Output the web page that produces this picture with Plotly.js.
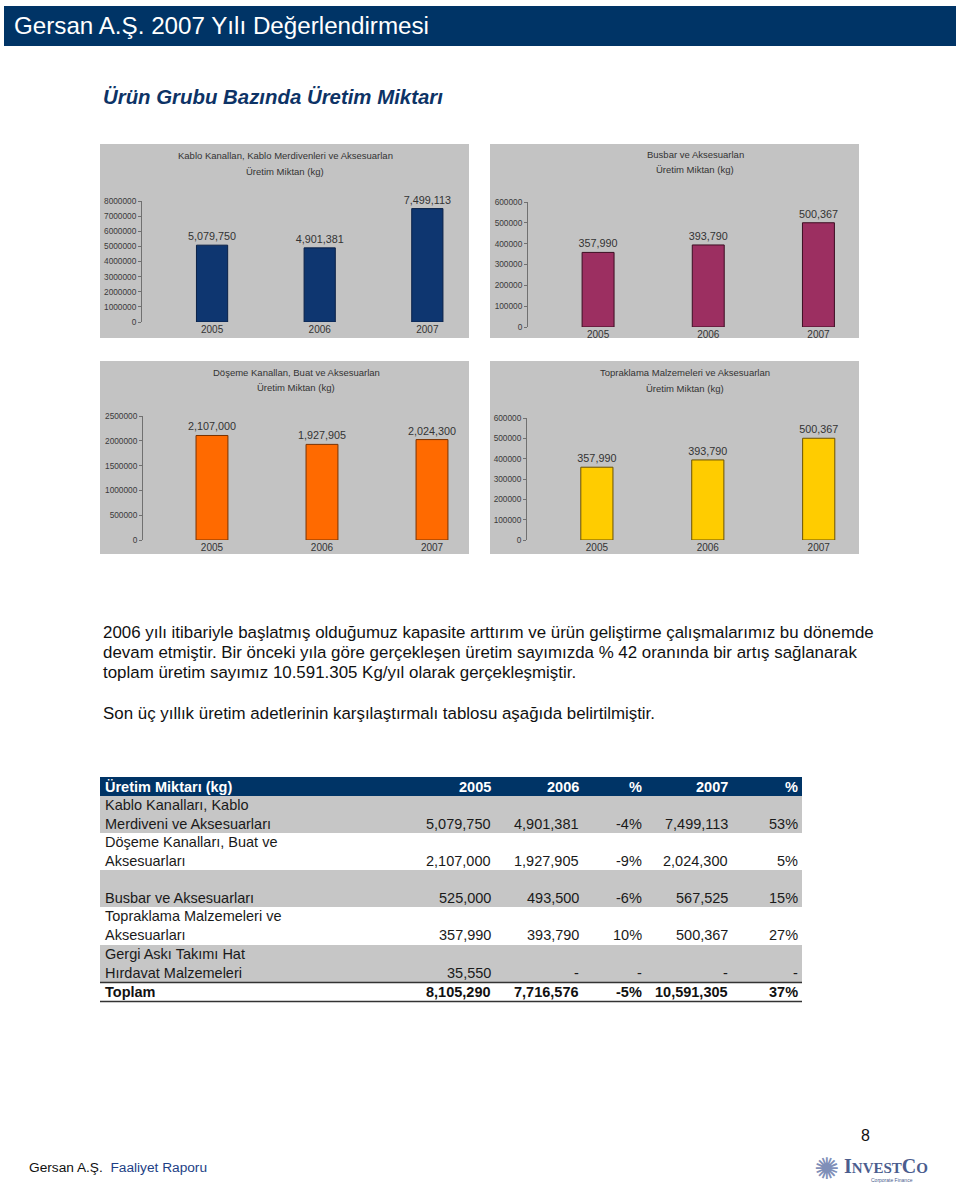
<!DOCTYPE html>
<html><head><meta charset="utf-8">
<script src="https://cdn.plot.ly/plotly-3.0.1.min.js"></script>
<style>html,body{margin:0;padding:0;background:#fff;} #page{width:960px;height:1192px;}</style>
</head><body><div id="page"></div>
<script>
// ---------------- DATA ----------------
const years = ['2005', '2006', '2007'];
const kabloValues = [5079750, 4901381, 7499113];
const busbarValues = [357990, 393790, 500367];
const dosemeValues = [2107000, 1927905, 2024300];
const topraklamaValues = [357990, 393790, 500367];

const kabloTitle = ['Kablo Kanallan, Kablo Merdivenleri ve Aksesuarlan', 'Üretim Miktan (kg)'];
const busbarTitle = ['Busbar ve Aksesuarlan', 'Üretim Miktan (kg)'];
const dosemeTitle = ['Döşeme Kanallan, Buat ve Aksesuarlan', 'Üretim Miktan (kg)'];
const topraklamaTitle = ['Topraklama Malzemeleri ve Aksesuarlan', 'Üretim Miktan (kg)'];

const tableHeader = ['Üretim Miktarı (kg)', '2005', '2006', '%', '2007', '%'];
const tableRowLine1 = ['Kablo Kanalları, Kablo', 'Döşeme Kanalları, Buat ve', '', 'Topraklama Malzemeleri ve', 'Gergi Askı Takımı Hat'];
const tableRowLine2 = ['Merdiveni ve Aksesuarları', 'Aksesuarları', 'Busbar ve Aksesuarları', 'Aksesuarları', 'Hırdavat Malzemeleri'];
const table2005 = [5079750, 2107000, 525000, 357990, 35550];
const table2006 = [4901381, 1927905, 493500, 393790, null];
const tablePct0506 = [-4, -9, -6, 10, null];
const table2007 = [7499113, 2024300, 567525, 500367, null];
const tablePct0607 = [53, 5, 15, 27, null];
const totalLabel = 'Toplam';
const totalRow = [8105290, 7716576, -5, 10591305, 37];

const pageTitle = 'Gersan A.Ş. 2007 Yılı Değerlendirmesi';
const sectionTitle = 'Ürün Grubu Bazında Üretim Miktarı';
const paragraphLines = [
  '2006 yılı itibariyle başlatmış olduğumuz kapasite arttırım ve ürün geliştirme çalışmalarımız bu dönemde',
  'devam etmiştir. Bir önceki yıla göre gerçekleşen üretim sayımızda % 42 oranında bir artış sağlanarak',
  'toplam üretim sayımız 10.591.305 Kg/yıl olarak gerçekleşmiştir.',
  'Son üç yıllık üretim adetlerinin karşılaştırmalı tablosu aşağıda belirtilmiştir.'
];
const pageNumber = '8';
const footerCompany = 'Gersan A.Ş.';
const footerReport = 'Faaliyet Raporu';

// ---------------- LAYOUT HELPERS ----------------
const W = 960, H = 1192;
const PX = x => x / W;
const PY = y => 1 - y / H;
const NARROW = '"Liberation Sans", Arial, Helvetica, sans-serif';
const SANS = '"Liberation Sans", Arial, Helvetica, sans-serif';
const fmt = v => (v === null ? '-' : Math.round(v).toLocaleString('en-US'));
const pct = v => (v === null ? '-' : v + '%');

const panels = [
  {values: kabloValues, title: kabloTitle, color: '#0E3670', line: '#0A2148',
   bg: [100, 144, 469, 338], x0: 142, x1: 465, yb: 322, yt: 201, ymax: 8000000, dtick: 1000000,
   range: [-0.651, 2.35], tx: 285, ty: [156, 171]},
  {values: busbarValues, title: busbarTitle, color: '#9C2F61', line: '#3C0E22',
   bg: [490, 144, 859, 338], x0: 528, x1: 857, yb: 327, yt: 202, ymax: 600000, dtick: 100000,
   range: [-0.636, 2.35], tx: 695, ty: [155, 170]},
  {values: dosemeValues, title: dosemeTitle, color: '#FF6A00', line: '#7A3200',
   bg: [100, 361, 469, 554], x0: 143, x1: 465, yb: 540, yt: 416, ymax: 2500000, dtick: 500000,
   range: [-0.627, 2.3], tx: 296, ty: [372, 387]},
  {values: topraklamaValues, title: topraklamaTitle, color: '#FFCC00', line: '#6B5200',
   bg: [490, 361, 859, 554], x0: 527, x1: 852, yb: 540, yt: 418, ymax: 600000, dtick: 100000,
   range: [-0.63, 2.3], tx: 685, ty: [372, 388]}
];

const data = [];
const shapes = [];
const annotations = [];
const layout = {
  width: W, height: H, margin: {l: 0, r: 0, t: 0, b: 0},
  paper_bgcolor: '#ffffff', plot_bgcolor: 'rgba(0,0,0,0)',
  showlegend: false, shapes: shapes, annotations: annotations,
  font: {family: NARROW, color: '#333'}
};

// header bar
shapes.push({type: 'rect', xref: 'paper', yref: 'paper', x0: PX(4), x1: PX(956), y0: PY(46), y1: PY(6),
  fillcolor: '#003466', line: {width: 0}, layer: 'below'});
annotations.push({xref: 'paper', yref: 'paper', x: PX(12), y: PY(26), xanchor: 'left', yanchor: 'middle',
  text: pageTitle, showarrow: false, font: {family: NARROW, size: 24.2, color: '#ffffff'}});
annotations.push({xref: 'paper', yref: 'paper', x: PX(101), y: PY(97), xanchor: 'left', yanchor: 'middle',
  text: '<b><i>' + sectionTitle + '</i></b>', showarrow: false, font: {family: NARROW, size: 20.4, color: '#0D3366'}});

// chart panels
panels.forEach((p, i) => {
  const n = i + 1;
  const xa = n === 1 ? 'xaxis' : 'xaxis' + n;
  const ya = n === 1 ? 'yaxis' : 'yaxis' + n;
  shapes.push({type: 'rect', xref: 'paper', yref: 'paper', x0: PX(p.bg[0]), x1: PX(p.bg[2]), y0: PY(p.bg[3]), y1: PY(p.bg[1]),
    fillcolor: '#C3C3C3', line: {width: 0}, layer: 'below'});
  data.push({
    type: 'bar', x: years, y: p.values, xaxis: 'x' + (n === 1 ? '' : n), yaxis: 'y' + (n === 1 ? '' : n),
    width: 0.29, marker: {color: p.color, line: {color: p.line, width: 1}},
    text: p.values.map(fmt), textposition: 'outside', cliponaxis: false, constraintext: 'none',
    textfont: {family: NARROW, size: 10.8, color: '#333'}, hoverinfo: 'none'
  });
  layout[xa] = {domain: [PX(p.x0), PX(p.x1)], anchor: 'y' + (n === 1 ? '' : n), type: 'category',
    range: p.range, showline: false, showgrid: false, zeroline: false, ticks: '', fixedrange: true,
    tickfont: {family: NARROW, size: 10, color: '#333'}};
  layout[ya] = {domain: [PY(p.yb), PY(p.yt)], anchor: 'x' + (n === 1 ? '' : n), range: [0, p.ymax],
    dtick: p.dtick, tick0: 0, tickformat: 'd', showline: true, linecolor: '#707070', linewidth: 1,
    ticks: 'outside', ticklen: 3, tickcolor: '#707070', showgrid: false, zeroline: false, fixedrange: true,
    tickfont: {family: NARROW, size: 8.3, color: '#3a3a3a'}};
  p.title.forEach((t, k) => {
    annotations.push({xref: 'paper', yref: 'paper', x: PX(p.tx), y: PY(p.ty[k]), xanchor: 'center', yanchor: 'middle',
      text: t, showarrow: false, font: {family: NARROW, size: 9.5, color: '#333'}});
  });
});

// paragraph
const paraY = [632, 652, 672, 713];
paragraphLines.forEach((t, k) => {
  annotations.push({xref: 'paper', yref: 'paper', x: PX(101), y: PY(paraY[k]), xanchor: 'left', yanchor: 'middle',
    text: t, showarrow: false, font: {family: SANS, size: 16.9, color: '#111'}});
});

// table
const TL = 100, TR = 802;
const colRight = [493, 581, 644, 730, 800];
shapes.push({type: 'rect', xref: 'paper', yref: 'paper', x0: PX(TL), x1: PX(TR), y0: PY(796), y1: PY(777),
  fillcolor: '#003466', line: {width: 0}, layer: 'below'});
const rowTop = [796, 833, 870, 907, 945];
const rowBottom = [833, 870, 907, 945, 982];
rowTop.forEach((t, r) => {
  if (r % 2 === 0) {
    shapes.push({type: 'rect', xref: 'paper', yref: 'paper', x0: PX(TL), x1: PX(TR), y0: PY(rowBottom[r]), y1: PY(t),
      fillcolor: '#C6C6C6', line: {width: 0}, layer: 'below'});
  }
});
shapes.push({type: 'line', xref: 'paper', yref: 'paper', x0: PX(TL), x1: PX(TR), y0: PY(982.5), y1: PY(982.5),
  line: {color: '#333', width: 1.5}});
shapes.push({type: 'line', xref: 'paper', yref: 'paper', x0: PX(TL), x1: PX(TR), y0: PY(1001.5), y1: PY(1001.5),
  line: {color: '#333', width: 1.5}});

const TFS = 14.5;
// header texts
tableHeader.forEach((h, c) => {
  annotations.push({xref: 'paper', yref: 'paper', x: c === 0 ? PX(103) : PX(colRight[c - 1]), y: PY(786.5),
    xanchor: c === 0 ? 'left' : 'right', yanchor: 'middle', text: '<b>' + h + '</b>', showarrow: false,
    font: {family: NARROW, size: TFS, color: '#ffffff'}});
});
rowTop.forEach((t, r) => {
  const l1 = t + 9, l2 = t + 27.5;
  if (tableRowLine1[r]) annotations.push({xref: 'paper', yref: 'paper', x: PX(103), y: PY(l1), xanchor: 'left', yanchor: 'middle',
    text: tableRowLine1[r], showarrow: false, font: {family: NARROW, size: TFS, color: '#1a1a1a'}});
  annotations.push({xref: 'paper', yref: 'paper', x: PX(103), y: PY(l2), xanchor: 'left', yanchor: 'middle',
    text: tableRowLine2[r], showarrow: false, font: {family: NARROW, size: TFS, color: '#1a1a1a'}});
  const cells = [fmt(table2005[r]), fmt(table2006[r]), pct(tablePct0506[r]), fmt(table2007[r]), pct(tablePct0607[r])];
  cells.forEach((v, c) => {
    annotations.push({xref: 'paper', yref: 'paper', x: PX(colRight[c]), y: PY(l2), xanchor: 'right', yanchor: 'middle',
      text: v, showarrow: false, font: {family: NARROW, size: TFS, color: '#1a1a1a'}});
  });
});
annotations.push({xref: 'paper', yref: 'paper', x: PX(103), y: PY(992), xanchor: 'left', yanchor: 'middle',
  text: '<b>' + totalLabel + '</b>', showarrow: false, font: {family: NARROW, size: TFS, color: '#111'}});
const totalCells = [fmt(totalRow[0]), fmt(totalRow[1]), pct(totalRow[2]), fmt(totalRow[3]), pct(totalRow[4])];
totalCells.forEach((v, c) => {
  annotations.push({xref: 'paper', yref: 'paper', x: PX(colRight[c]), y: PY(992), xanchor: 'right', yanchor: 'middle',
    text: '<b>' + v + '</b>', showarrow: false, font: {family: NARROW, size: TFS, color: '#111'}});
});

// footer
annotations.push({xref: 'paper', yref: 'paper', x: PX(865), y: PY(1135), xanchor: 'center', yanchor: 'middle',
  text: pageNumber, showarrow: false, font: {family: NARROW, size: 16, color: '#111'}});
annotations.push({xref: 'paper', yref: 'paper', x: PX(27), y: PY(1167), xanchor: 'left', yanchor: 'middle',
  text: footerCompany + '  <span style="color:#1E3F86">' + footerReport + '</span>', showarrow: false,
  font: {family: NARROW, size: 13.7, color: '#111'}});
annotations.push({xref: 'paper', yref: 'paper', x: PX(826), y: PY(1168), xanchor: 'center', yanchor: 'middle',
  text: '✺', showarrow: false, font: {family: '"DejaVu Sans", sans-serif', size: 30, color: '#7F8FB8'}});
annotations.push({xref: 'paper', yref: 'paper', x: PX(842), y: PY(1166), xanchor: 'left', yanchor: 'middle',
  text: '<b>I<span style="font-size:15px">NVEST</span>C<span style="font-size:15px">O</span></b>', showarrow: false,
  font: {family: '"Liberation Serif", "DejaVu Serif", serif', size: 20, color: '#4B5D8E'}});
annotations.push({xref: 'paper', yref: 'paper', x: PX(892), y: PY(1180), xanchor: 'center', yanchor: 'middle',
  text: 'Corporate Finance', showarrow: false, font: {family: SANS, size: 5, color: '#4B5D8E'}});

Plotly.newPlot('page', data, layout, {displayModeBar: false, staticPlot: true});
</script>
</body></html>
